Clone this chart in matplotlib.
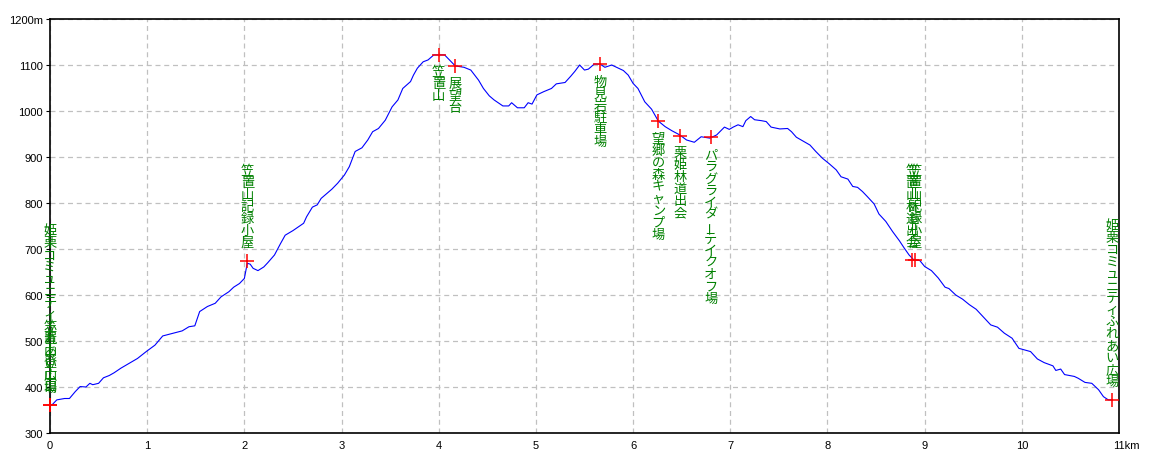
import matplotlib
matplotlib.use('Agg')
import matplotlib.pyplot as plt
import matplotlib.transforms as mtransforms

# 距離(km)と標高(m) - 図から読み取った値
dist = [0.00, 0.02, 0.07, 0.15, 0.20, 0.26, 0.31, 0.37, 0.41, 0.44, 0.50, 0.55, 0.61, 0.66, 0.73,
        0.81, 0.90, 0.99, 1.08, 1.16, 1.27, 1.36, 1.43, 1.49, 1.54, 1.62, 1.70, 1.76, 1.84, 1.89,
        1.95, 2.00, 2.03, 2.06, 2.09, 2.14, 2.20, 2.24, 2.31, 2.37, 2.42, 2.50, 2.57, 2.61, 2.64,
        2.70, 2.75, 2.79, 2.85, 2.90, 2.96, 3.03, 3.08, 3.14, 3.21, 3.27, 3.32, 3.38, 3.45, 3.52,
        3.58, 3.63, 3.71, 3.74, 3.78, 3.84, 3.89, 3.95, 4.06, 4.11, 4.17, 4.26, 4.33, 4.41, 4.46,
        4.52, 4.57, 4.66, 4.72, 4.75, 4.81, 4.88, 4.92, 4.96, 5.01, 5.08, 5.16, 5.21, 5.30, 5.36,
        5.40, 5.45, 5.50, 5.54, 5.60, 5.66, 5.71, 5.78, 5.83, 5.90, 5.95, 6.00, 6.05, 6.12, 6.19,
        6.26, 6.33, 6.40, 6.48, 6.55, 6.63, 6.70, 6.79, 6.86, 6.94, 6.99, 7.03, 7.08, 7.13, 7.16,
        7.21, 7.25, 7.32, 7.37, 7.42, 7.51, 7.59, 7.63, 7.68, 7.73, 7.82, 7.88, 7.95, 8.02, 8.09,
        8.14, 8.21, 8.26, 8.31, 8.36, 8.41, 8.48, 8.53, 8.60, 8.67, 8.74, 8.79, 8.84, 8.89, 8.95,
        9.00, 9.07, 9.14, 9.21, 9.25, 9.32, 9.39, 9.46, 9.53, 9.60, 9.68, 9.75, 9.82, 9.90, 9.97,
        10.02, 10.09, 10.16, 10.23, 10.32, 10.35, 10.40, 10.44, 10.54, 10.58, 10.65, 10.72, 10.79,
        10.84, 10.89, 10.93]
elev = [361, 361, 372, 375, 375, 390, 401, 400, 408, 405, 408, 420, 425, 431, 441,
        451, 462, 477, 491, 511, 517, 522, 531, 533, 564, 575, 582, 596, 607, 617,
        625, 636, 669, 667, 658, 653, 661, 670, 687, 711, 730, 740, 750, 756, 770,
        791, 796, 810, 821, 830, 843, 861, 879, 912, 920, 937, 955, 962, 980, 1009,
        1024, 1049, 1064, 1078, 1093, 1107, 1111, 1122, 1122, 1111, 1098, 1095, 1089, 1067, 1049,
        1033, 1024, 1011, 1011, 1018, 1007, 1007, 1018, 1015, 1035, 1042, 1049, 1059, 1062, 1076,
        1086, 1100, 1089, 1091, 1102, 1102, 1095, 1100, 1095, 1088, 1078, 1060, 1049, 1020, 1004,
        978, 966, 957, 948, 937, 932, 944, 941, 948, 965, 960, 965, 970, 966, 979,
        988, 981, 979, 977, 965, 961, 962, 955, 943, 937, 926, 912, 897, 885, 872,
        857, 852, 836, 834, 825, 814, 798, 776, 760, 738, 718, 702, 687, 676, 675,
        662, 653, 637, 617, 614, 600, 591, 579, 569, 553, 535, 530, 517, 506, 484,
        481, 477, 461, 453, 446, 436, 439, 427, 423, 419, 410, 408, 394,
        379, 372, 372]

# 地点
pt_km = [0.00, 0.00, 2.03, 4.00, 4.17, 5.66, 6.26, 6.48, 6.80, 8.87, 8.90, 10.93]
pt_elev = [361, 361, 675, 1122, 1097, 1102, 978, 946, 943, 676, 676, 372]
pt_name = ['姫栗コミュニティふれあい広場', '笠置山登山口', '笠置山記録小屋', '笠置山', '展望台',
           '物見岩駐車場', '望郷の森キャンプ場', '栗姫林道出会', 'パラグライダーテイクオフ場',
           '笠置山林道出会', '笠置山記録小屋', '姫栗コミュニティふれあい広場']

xticks = list(range(0, 12))
xlabels = [str(v) for v in range(0, 11)] + ['11km']
yticks = list(range(300, 1300, 100))
ylabels = [str(v) for v in range(300, 1200, 100)] + ['1200m']

fig = plt.figure(figsize=(11.6, 4.64), dpi=100)
ax = fig.add_axes([50 / 1160, 1 - 434 / 464, 1069 / 1160, 414 / 464])

ax.plot(dist, elev, color='#0000ff', lw=0.8, zorder=3)
ax.plot(pt_km, pt_elev, ls='none', marker='+', ms=10, mew=1.1, color='#ff0000', zorder=4, clip_on=False)

ax.set_xlim(0, 11)
ax.set_ylim(300, 1200)
ax.set_xticks(xticks)
ax.set_xticklabels(xlabels, fontfamily='Liberation Sans', fontsize=8)
ax.set_yticks(yticks)
ax.set_yticklabels(ylabels, fontfamily='Liberation Sans', fontsize=8)
ax.tick_params(axis='y', length=3, pad=2)
ax.tick_params(axis='x', length=0, pad=5)
ax.grid(True, color='#c0c0c0', ls=(0, (4, 3)), lw=0.9)
for s in ax.spines.values():
    s.set_linewidth(1.2)

# "11km" は数字を目盛りに合わせる
last = ax.get_xticklabels()[-1]
last.set_horizontalalignment('left')
last.set_transform(last.get_transform() + mtransforms.ScaledTranslation(-6 / 100, 0, fig.dpi_scale_trans))

# 縦書きラベル: 高い地点は下側、低い地点は上側
mid = 750
step = 12
for km, h, name in zip(pt_km, pt_elev, pt_name):
    n = len(name)
    for i, ch in enumerate(name):
        if h > mid:
            dy = -(11 + step / 2 + step * i)
        else:
            dy = 12 + step / 2 + step * (n - 1 - i)
        rot = 90 if ch == 'ー' else 0
        ax.annotate(ch, (km, h), xytext=(0, dy), textcoords='offset pixels',
                    ha='center', va='center', color='#008000', fontsize=9.5,
                    fontfamily=['Noto Sans CJK JP', 'DejaVu Sans'], rotation=rot,
                    annotation_clip=False, zorder=5)

fig.savefig('out.png', dpi=100)
